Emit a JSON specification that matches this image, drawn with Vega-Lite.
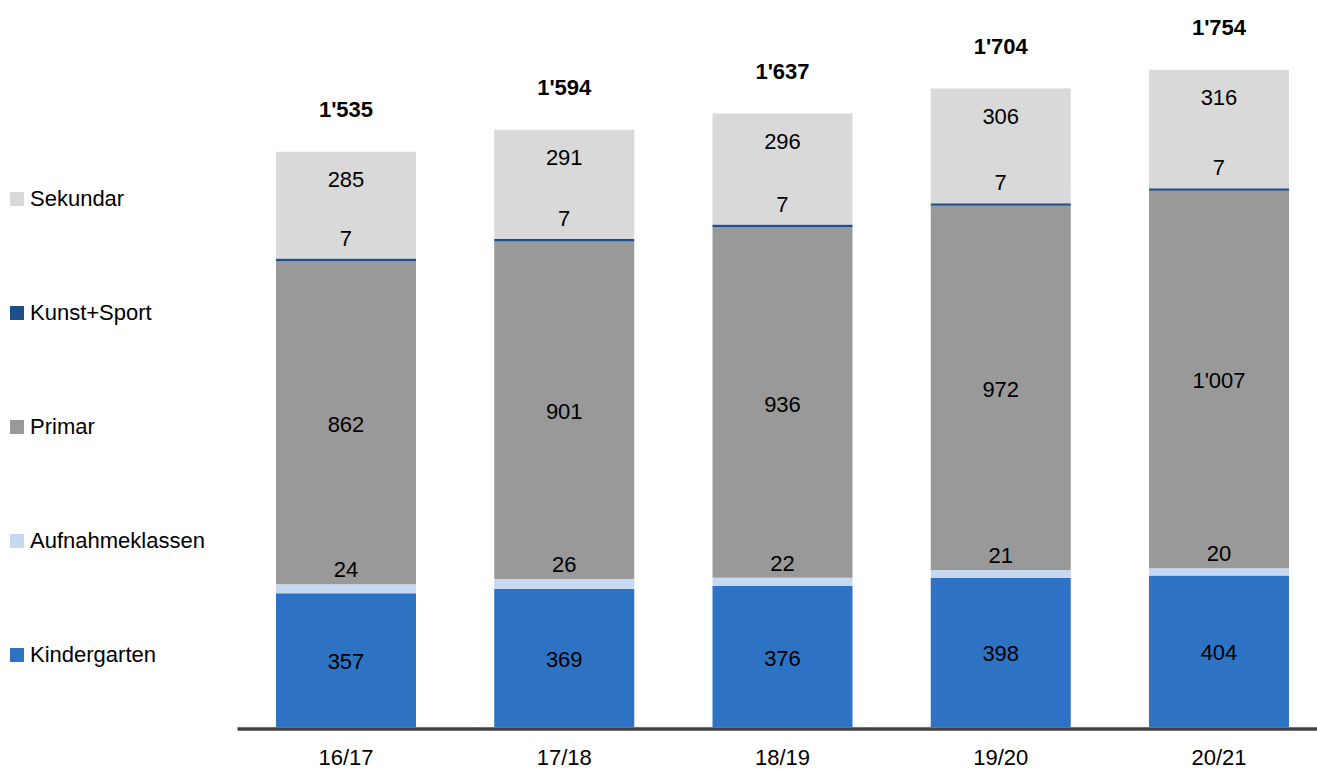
{
  "$schema": "https://vega.github.io/schema/vega-lite/v6.json",
  "width": 1080,
  "height": 727,
  "autosize": {"type": "none"},
  "padding": {"left": 237, "top": 0, "right": 0, "bottom": 42},
  "config": {
    "view": {"stroke": null},
    "locale": {"number": {"decimal": ".", "thousands": "'", "grouping": [3], "currency": ["", ""]}},
    "font": "Liberation Sans",
    "text": {"font": "Liberation Sans", "fontSize": 22, "color": "black", "baseline": "middle", "align": "center"}
  },
  "data": {
    "values": [
      {"year": "16/17", "cat": "Kindergarten", "ord": 1, "value": 357},
      {"year": "16/17", "cat": "Aufnahmeklassen", "ord": 2, "value": 24},
      {"year": "16/17", "cat": "Primar", "ord": 3, "value": 862},
      {"year": "16/17", "cat": "Kunst+Sport", "ord": 4, "value": 7},
      {"year": "16/17", "cat": "Sekundar", "ord": 5, "value": 285},
      {"year": "17/18", "cat": "Kindergarten", "ord": 1, "value": 369},
      {"year": "17/18", "cat": "Aufnahmeklassen", "ord": 2, "value": 26},
      {"year": "17/18", "cat": "Primar", "ord": 3, "value": 901},
      {"year": "17/18", "cat": "Kunst+Sport", "ord": 4, "value": 7},
      {"year": "17/18", "cat": "Sekundar", "ord": 5, "value": 291},
      {"year": "18/19", "cat": "Kindergarten", "ord": 1, "value": 376},
      {"year": "18/19", "cat": "Aufnahmeklassen", "ord": 2, "value": 22},
      {"year": "18/19", "cat": "Primar", "ord": 3, "value": 936},
      {"year": "18/19", "cat": "Kunst+Sport", "ord": 4, "value": 7},
      {"year": "18/19", "cat": "Sekundar", "ord": 5, "value": 296},
      {"year": "19/20", "cat": "Kindergarten", "ord": 1, "value": 398},
      {"year": "19/20", "cat": "Aufnahmeklassen", "ord": 2, "value": 21},
      {"year": "19/20", "cat": "Primar", "ord": 3, "value": 972},
      {"year": "19/20", "cat": "Kunst+Sport", "ord": 4, "value": 7},
      {"year": "19/20", "cat": "Sekundar", "ord": 5, "value": 306},
      {"year": "20/21", "cat": "Kindergarten", "ord": 1, "value": 404},
      {"year": "20/21", "cat": "Aufnahmeklassen", "ord": 2, "value": 20},
      {"year": "20/21", "cat": "Primar", "ord": 3, "value": 1007},
      {"year": "20/21", "cat": "Kunst+Sport", "ord": 4, "value": 7},
      {"year": "20/21", "cat": "Sekundar", "ord": 5, "value": 316}
    ]
  },
  "transform": [
    {"stack": "value", "groupby": ["year"], "sort": [{"field": "ord", "order": "ascending"}], "as": ["v0", "v1"]},
    {"calculate": "(datum.v0 + datum.v1) / 2", "as": "mid"}
  ],
  "encoding": {
    "x": {
      "field": "year", "type": "nominal", "sort": null,
      "scale": {"paddingInner": 0.3585, "paddingOuter": 0.1535, "align": 0.582},
      "axis": {
        "title": null, "domainColor": "#404040", "domainWidth": 3.5, "ticks": false, "tickSize": 0,
        "labelFontSize": 22, "labelFont": "Liberation Sans", "labelColor": "black",
        "labelPadding": 28.5, "labelBaseline": "middle", "labelAngle": 0, "grid": false, "offset": 1.5
      }
    }
  },
  "layer": [
    {
      "mark": {"type": "bar"},
      "encoding": {
        "y": {"field": "v0", "type": "quantitative", "scale": {"domain": [0, 1940.2], "nice": false, "zero": true}, "axis": null},
        "y2": {"field": "v1"},
        "color": {
          "field": "cat", "type": "nominal",
          "scale": {
            "domain": ["Sekundar", "Kunst+Sport", "Primar", "Aufnahmeklassen", "Kindergarten"],
            "range": ["#D9D9D9", "#1F4E8C", "#999999", "#C6D9F0", "#2E72C4"]
          },
          "legend": {
            "orient": "none", "legendX": -231, "legendY": 188, "title": null,
            "symbolType": "square", "symbolSize": 196, "symbolStrokeWidth": 0, "symbolOpacity": 1,
            "labelFontSize": 22, "labelFont": "Liberation Sans", "labelColor": "black", "labelLimit": 400,
            "labelOffset": 2, "rowPadding": 92, "padding": 0, "symbolOffset": 0
          }
        }
      }
    },
    {
      "transform": [{"filter": "datum.cat === 'Kindergarten' || datum.cat === 'Primar'"}],
      "mark": {"type": "text", "dy": 2},
      "encoding": {
        "y": {"field": "mid", "type": "quantitative", "scale": {"domain": [0, 1940.2], "nice": false, "zero": true}, "axis": null},
        "text": {"field": "value", "type": "quantitative", "format": ",d"}
      }
    },
    {
      "transform": [{"filter": "datum.cat === 'Sekundar'"}],
      "mark": {"type": "text", "dy": 28},
      "encoding": {
        "y": {"field": "v1", "type": "quantitative", "scale": {"domain": [0, 1940.2], "nice": false, "zero": true}, "axis": null},
        "text": {"field": "value", "type": "quantitative", "format": ",d"}
      }
    },
    {
      "transform": [{"filter": "datum.cat === 'Aufnahmeklassen'"}],
      "mark": {"type": "text", "dy": -14},
      "encoding": {
        "y": {"field": "v1", "type": "quantitative", "scale": {"domain": [0, 1940.2], "nice": false, "zero": true}, "axis": null},
        "text": {"field": "value", "type": "quantitative", "format": ",d"}
      }
    },
    {
      "transform": [{"filter": "datum.cat === 'Kunst+Sport'"}],
      "mark": {"type": "text", "dy": -20},
      "encoding": {
        "y": {"field": "v1", "type": "quantitative", "scale": {"domain": [0, 1940.2], "nice": false, "zero": true}, "axis": null},
        "text": {"field": "value", "type": "quantitative", "format": ",d"}
      }
    },
    {
      "transform": [{"filter": "datum.cat === 'Sekundar'"}],
      "mark": {"type": "text", "dy": -42, "fontWeight": "bold"},
      "encoding": {
        "y": {"field": "v1", "type": "quantitative", "scale": {"domain": [0, 1940.2], "nice": false, "zero": true}, "axis": null},
        "text": {"field": "v1", "type": "quantitative", "format": ",d"}
      }
    }
  ]
}
